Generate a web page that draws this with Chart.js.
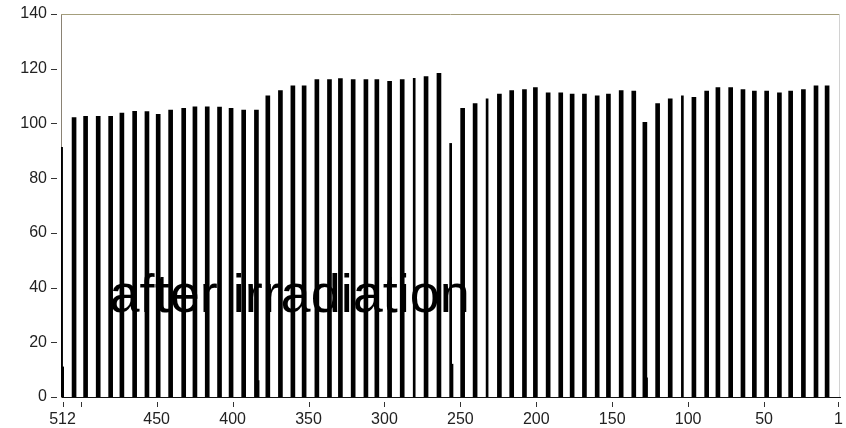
<!DOCTYPE html>
<html>
<head>
<meta charset="utf-8">
<script src="https://cdn.jsdelivr.net/npm/chart.js@4/dist/chart.umd.min.js"></script>
<style>
  html, body { margin: 0; padding: 0; background: #fff; }
  canvas { display: block; }
</style>
</head>
<body>
<canvas id="chart" width="846" height="428"></canvas>
<script>
// Channel positions (512 -> 1) and peak heights of the regular peaks.
const PEAK_CH = [504.4, 496.8, 488.5, 480.3, 472.9, 464.5, 456.4, 449.0, 440.8, 432.2,
                 424.8, 416.7, 408.6, 401.0, 392.7, 384.3, 376.8, 368.5, 360.3, 352.9,
                 344.5, 336.2, 329.0, 320.6, 312.2, 305.0, 296.6, 288.3, 272.6, 264.1,
                 248.5, 240.3, 224.3, 216.2, 207.8, 200.6, 192.2, 183.9, 176.4, 168.3,
                 159.9, 152.5, 144.1, 135.8, 128.5, 120.1, 111.8, 96.2, 87.8, 80.4,
                 72.0, 63.9, 56.4, 48.3, 39.9, 32.5, 24.1, 15.8, 8.5];
const PEAK_H  = [102.1, 102.6, 102.6, 102.6, 103.8, 104.4, 104.3, 103.3, 104.9, 105.5,
                 106.1, 106.1, 106.0, 105.5, 104.9, 104.9, 110.1, 112.0, 113.7, 113.7,
                 116.0, 116.0, 116.4, 116.0, 116.0, 116.0, 115.4, 116.0, 117.1, 118.3,
                 105.5, 107.3, 110.7, 112.0, 112.4, 113.1, 111.2, 111.2, 110.7, 110.7,
                 110.1, 110.7, 112.0, 111.8, 100.4, 107.3, 109.0, 109.5, 111.8, 113.1,
                 113.1, 112.4, 111.8, 111.8, 111.2, 111.8, 112.4, 113.7, 113.7];

// Narrow peaks
const NARROW_CH = [512.6, 280.4, 256.4, 232.4, 103.8];
const NARROW_H  = [91.3, 116.5, 92.7, 109.0, 110.1];

// Small side peaks on the baseline
const FOOT_CH = [511.9, 383.2, 255.5, 127.4];
const FOOT_H  = [11, 6, 12, 7];

const X_TICKS = [512, 500, 450, 400, 350, 300, 250, 200, 150, 100, 50, 1];
const X_UNLABELLED = [500];
const Y_TICKS = [0, 20, 40, 60, 80, 100, 120, 140];

const LABEL = "after irradiation";
const LABEL_AT = { x: 481, y: 31 };

const FONT = "'Liberation Sans', Arial, sans-serif";

const pts = (xs, ys) => xs.map((x, i) => ({ x, y: ys[i] }));

// Plot frame (top / right) and the short detached tick marks.
const framePlugin = {
  id: "frame",
  afterDraw(chart) {
    const { ctx, chartArea: a, scales: { x, y } } = chart;
    ctx.save();
    ctx.lineWidth = 1;
    ctx.strokeStyle = "#a49e7c";
    ctx.beginPath();
    ctx.moveTo(a.left, a.top + 0.5);
    ctx.lineTo(a.right, a.top + 0.5);
    ctx.stroke();
    ctx.strokeStyle = "#d2d2d2";
    ctx.beginPath();
    ctx.moveTo(a.right - 0.5, a.top);
    ctx.lineTo(a.right - 0.5, a.bottom);
    ctx.stroke();

    ctx.strokeStyle = "#333";
    for (const v of Y_TICKS) {
      const py = Math.round(y.getPixelForValue(v)) + 0.5;
      ctx.beginPath();
      ctx.moveTo(a.left - 10, py);
      ctx.lineTo(a.left - 4, py);
      ctx.stroke();
    }
    for (const v of X_TICKS) {
      const px = Math.round(x.getPixelForValue(v)) + 0.5;
      ctx.beginPath();
      ctx.moveTo(px, a.bottom + 5);
      ctx.lineTo(px, a.bottom + 10);
      ctx.stroke();
    }

    // annotation text
    ctx.fillStyle = "#000";
    ctx.font = `54px ${FONT}`;
    ctx.textBaseline = "alphabetic";
    ctx.textAlign = "left";
    ctx.fillText(LABEL, x.getPixelForValue(LABEL_AT.x), y.getPixelForValue(LABEL_AT.y));
    ctx.restore();
  },
};

const barBase = { backgroundColor: "#000", borderWidth: 0, stack: "peaks" };

new Chart(document.getElementById("chart"), {
  type: "bar",
  data: {
    datasets: [
      { ...barBase, label: "peaks", data: pts(PEAK_CH, PEAK_H), barThickness: 4 },
      { ...barBase, label: "narrow", data: pts(NARROW_CH, NARROW_H), barThickness: 2 },
      { ...barBase, label: "side", data: pts(FOOT_CH, FOOT_H), barThickness: 2 },
    ],
  },
  options: {
    responsive: false,
    animation: false,
    layout: { padding: { left: 0, right: 6, top: 14, bottom: 0 } },
    plugins: { legend: { display: false }, tooltip: { enabled: false } },
    scales: {
      x: {
        type: "linear",
        reverse: true,
        offset: false,
        min: 0,
        max: 513,
        afterBuildTicks: (s) => { s.ticks = X_TICKS.map((value) => ({ value })); },
        afterFit: (s) => { s.height = 31; s.paddingLeft = 0; s.paddingRight = 0; },
        grid: { display: false, drawTicks: false, offset: false },
        border: { display: true, color: "#111", width: 1 },
        ticks: {
          autoSkip: false,
          maxRotation: 0,
          padding: 13,
          color: "#222",
          font: { family: FONT, size: 16 },
          callback: (v) => (X_UNLABELLED.includes(v) ? "" : String(v)),
        },
      },
      y: {
        min: 0,
        max: 140,
        afterBuildTicks: (s) => { s.ticks = Y_TICKS.map((value) => ({ value })); },
        afterFit: (s) => { s.width = 61; s.paddingTop = 0; s.paddingBottom = 0; },
        grid: { display: false, drawTicks: false },
        border: { display: true, color: "#8a8274", width: 1 },
        ticks: {
          padding: 14,
          color: "#222",
          font: { family: FONT, size: 16 },
        },
      },
    },
  },
  plugins: [framePlugin],
});
</script>
</body>
</html>
